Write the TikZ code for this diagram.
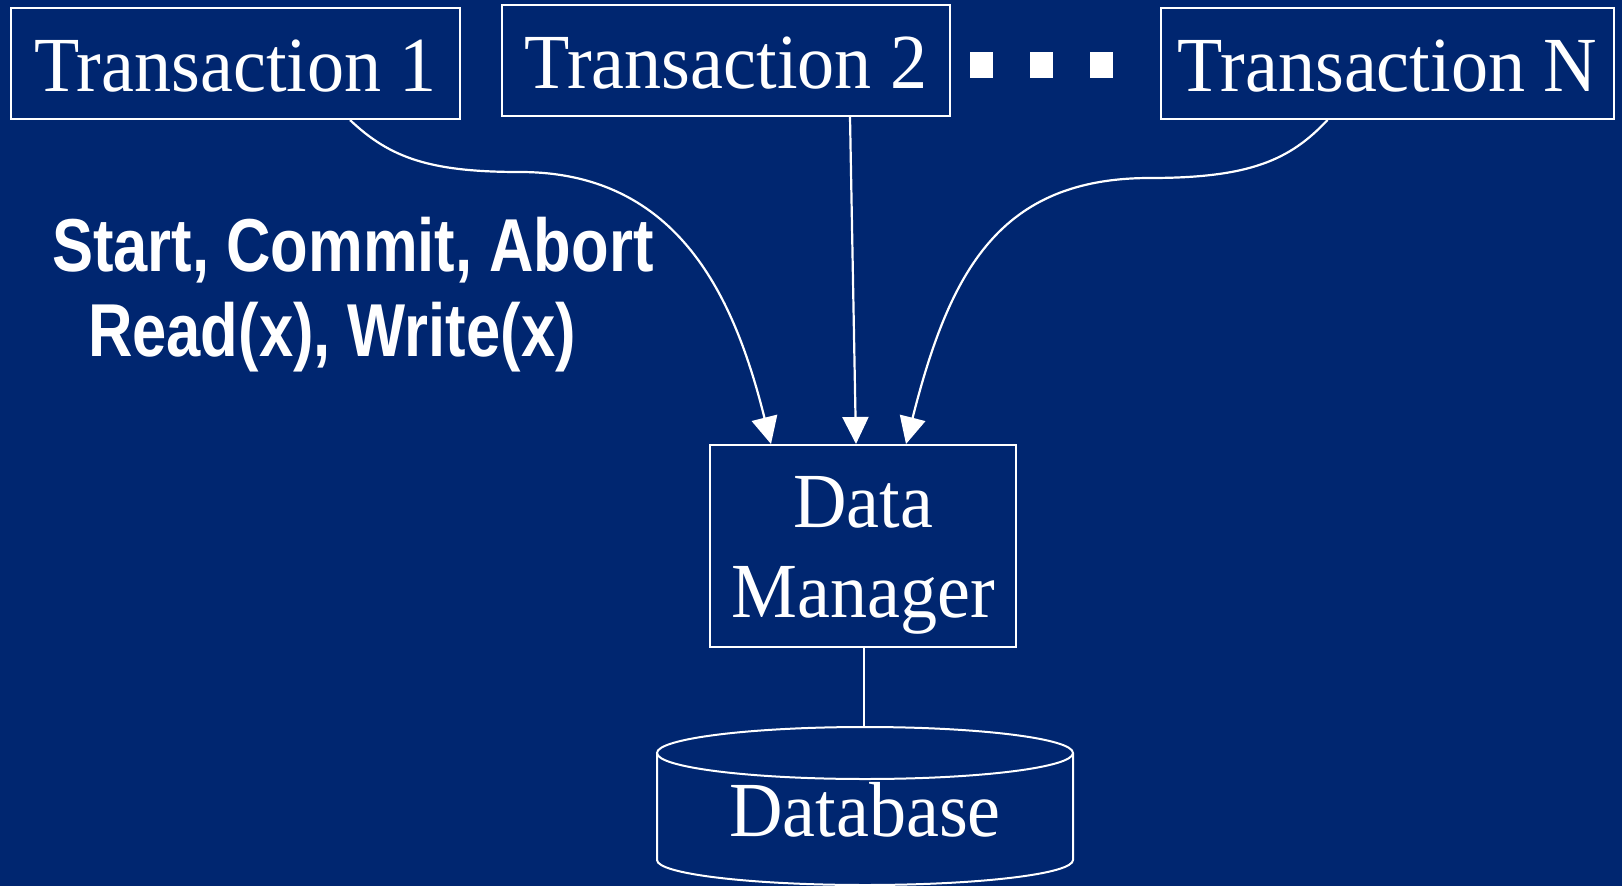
\documentclass[tikz,border=0pt]{standalone}
\usepackage{fontspec}
\setmainfont{Liberation Serif}[FakeStretch=0.95]
\newfontfamily\narrowbold{Liberation Sans Bold}[FakeStretch=0.82]
\usetikzlibrary{arrows.meta,calc}
\definecolor{bg}{RGB}{0,38,112}
\begin{document}
\begin{tikzpicture}[x=1pt,y=-1pt,
  txbox/.style={draw=white,line width=2pt,inner sep=0pt,minimum height=111pt,text=white,
     font=\fontsize{78}{90}\selectfont,text height=55pt,text depth=0pt},
  dmbox/.style={draw=white,line width=2pt,inner sep=0pt,minimum width=306pt,minimum height=202pt},
  sertext/.style={text=white,inner sep=0pt,anchor=base,font=\fontsize{78}{90}\selectfont},
  lbl/.style={text=white,inner sep=0pt,font=\narrowbold\fontsize{75}{85}\selectfont},
  arr/.style={white,line width=2.2pt,-{Triangle[length=27pt,width=26pt]}},
  lnk/.style={white,line width=2pt},
  dot/.style={fill=white,draw=none,minimum width=23pt,minimum height=26pt,inner sep=0pt}]
\fill[bg] (0,0) rectangle (1622,886);
\useasboundingbox (0,0) rectangle (1622,886);
% transactions
\node[txbox,minimum width=449pt] (t1) at (235.5,63.5) {Transaction 1};
\node[txbox,minimum width=448pt] (t2) at (726,60.5) {Transaction 2};
\node[txbox,minimum width=453pt] (tn) at (1387.5,63.5) {Transaction N};
\node[dot] (d1) at (981.5,65) {};
\node[dot] (d2) at (1041.5,65) {};
\node[dot] (d3) at (1101.5,65) {};
% data manager
\node[dmbox] (dm) at (863,546) {};
\node[sertext] (dmA) at (863,527) {Data};
\node[sertext] (dmB) at (863,617) {Manager};
% database
\coordinate (dbtop) at (864,727);
\draw[lnk] (657,753) -- (657,860) arc[start angle=180,end angle=360,x radius=208,y radius=-25]
   -- (1073,753);
\draw[lnk] (865,753) ellipse[x radius=208,y radius=26];
\node[sertext] (db) at (865,836) {Database};
\draw[lnk] (dm.south -| dbtop) -- (dbtop);
% labels
\node[lbl,anchor=base west] (l1) at (52,271) {Start, Commit, Abort};
\node[lbl,anchor=base west] (l2) at (88,356) {Read(x), Write(x)};
% arrows
\draw[arr] ($(t1.south)+(114.5,0)$) .. controls (390,158) and (430,172) .. (520,172)
   .. controls (680,172) and (735,300) .. ($(dm.north)+(-92,0)$);
\draw[arr] ($(t2.south)+(124,0)$) -- ($(dm.north)+(-7,0)$);
\draw[arr] ($(tn.south)+(-60,0)$) .. controls (1290,160) and (1250,178) .. (1150,178)
   .. controls (1000,178) and (950,270) .. ($(dm.north)+(43,0)$);
\end{tikzpicture}
\end{document}
